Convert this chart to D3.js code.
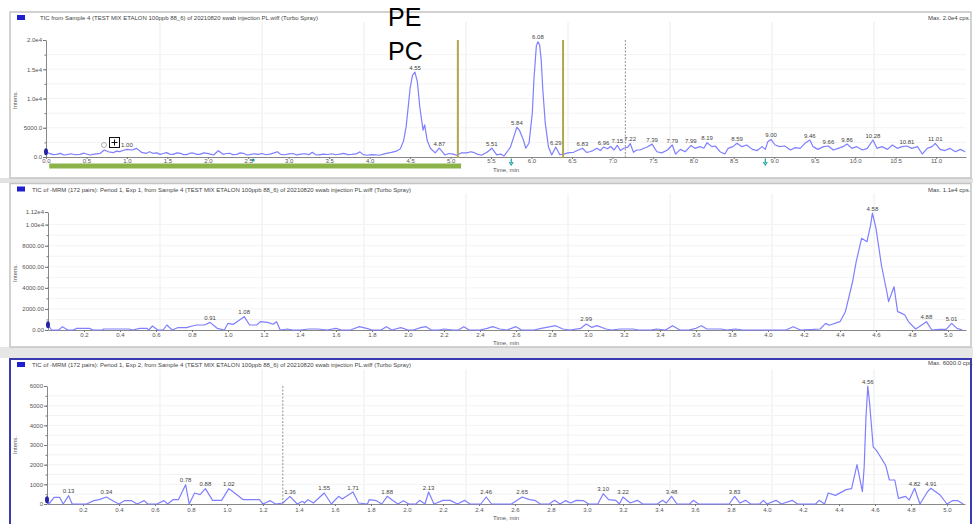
<!DOCTYPE html>
<html>
<head>
<meta charset="utf-8">
<script src="https://cdn.jsdelivr.net/npm/d3@7"></script>
<style>
  body { margin: 0; background: #fff; }
  svg { display: block; font-family: "Liberation Sans", Arial, sans-serif; }
</style>
</head>
<body>
<svg id="chart" width="973" height="524"></svg>
<script>
// ---- data: [time (min), intensity (cps)] ----
const p1Trace = [[0.00,900],[0.04,630],[0.09,400],[0.13,455],[0.18,620],[0.22,340],[0.26,400],[0.31,560],[0.36,380],[0.42,455],[0.47,650],[0.54,340],[0.60,500],[0.67,630],[0.72,1200],[0.77,900],[0.83,740],[0.87,1000],[0.91,910],[0.96,1150],[1.00,1310],[1.06,1200],[1.12,1480],[1.18,800],[1.24,630],[1.28,900],[1.32,630],[1.37,700],[1.41,455],[1.45,600],[1.49,740],[1.53,500],[1.57,455],[1.62,700],[1.66,630],[1.70,400],[1.74,400],[1.78,650],[1.82,680],[1.86,450],[1.90,455],[1.95,700],[1.99,630],[2.03,500],[2.07,340],[2.13,1080],[2.19,455],[2.23,600],[2.27,630],[2.31,400],[2.36,455],[2.40,700],[2.44,630],[2.48,380],[2.52,400],[2.57,550],[2.62,450],[2.67,600],[2.72,380],[2.77,500],[2.82,700],[2.86,900],[2.90,450],[2.95,380],[3.00,520],[3.05,600],[3.10,350],[3.15,480],[3.20,560],[3.25,400],[3.29,800],[3.33,420],[3.38,350],[3.43,500],[3.48,430],[3.53,550],[3.58,380],[3.63,480],[3.68,620],[3.73,400],[3.78,450],[3.83,520],[3.88,880],[3.92,400],[3.97,300],[4.02,420],[4.07,380],[4.12,300],[4.17,500],[4.22,650],[4.27,800],[4.33,1000],[4.38,1400],[4.42,2800],[4.45,5100],[4.48,9000],[4.50,11800],[4.53,14000],[4.56,14500],[4.59,12800],[4.62,8500],[4.66,4600],[4.68,5500],[4.71,2900],[4.75,1500],[4.81,700],[4.86,1500],[4.93,350],[4.98,600],[5.03,500],[5.08,300],[5.13,700],[5.20,700],[5.25,900],[5.28,800],[5.33,500],[5.38,300],[5.45,800],[5.51,1500],[5.57,350],[5.62,500],[5.66,170],[5.70,900],[5.74,1700],[5.78,3400],[5.82,5100],[5.85,4600],[5.90,2900],[5.93,1500],[5.97,2400],[6.01,7500],[6.03,13200],[6.06,19000],[6.08,19700],[6.10,19200],[6.12,16600],[6.14,11500],[6.17,5800],[6.21,1700],[6.25,350],[6.30,1700],[6.35,400],[6.40,500],[6.45,700],[6.52,800],[6.58,1200],[6.63,1500],[6.68,800],[6.72,900],[6.76,1100],[6.81,1500],[6.85,1100],[6.89,1700],[6.94,1400],[6.98,1800],[7.02,1200],[7.06,2000],[7.10,1100],[7.14,1500],[7.19,1700],[7.22,2300],[7.26,800],[7.30,1200],[7.34,1200],[7.39,1500],[7.43,1700],[7.49,2200],[7.55,900],[7.61,700],[7.68,1200],[7.74,2050],[7.78,500],[7.84,1300],[7.90,900],[7.97,1950],[8.02,1480],[8.08,1770],[8.13,1500],[8.17,2450],[8.23,1770],[8.27,1880],[8.33,900],[8.39,500],[8.43,1480],[8.49,1770],[8.54,2340],[8.60,1770],[8.66,2050],[8.73,1300],[8.79,1100],[8.85,1770],[8.89,1300],[8.92,2620],[8.96,3000],[9.01,2050],[9.07,1770],[9.13,1880],[9.20,1200],[9.26,1600],[9.32,1480],[9.38,2340],[9.44,2900],[9.48,1770],[9.54,1300],[9.61,1770],[9.67,1880],[9.73,1200],[9.79,1480],[9.85,1770],[9.90,2220],[9.96,1480],[10.02,1770],[10.09,1200],[10.15,1480],[10.22,2900],[10.27,1480],[10.33,1770],[10.40,1300],[10.46,2050],[10.52,1480],[10.58,1770],[10.64,1880],[10.70,1480],[10.77,1770],[10.83,510],[10.89,1480],[10.95,1770],[10.99,2340],[11.05,1300],[11.11,1100],[11.17,1480],[11.24,900],[11.30,1300],[11.36,900]];

const p2Trace = [[0.00,500],[0.02,0],[0.06,0],[0.08,316],[0.11,0],[0.14,0],[0.16,158],[0.19,158],[0.23,158],[0.25,0],[0.30,0],[0.31,95],[0.38,95],[0.45,95],[0.47,0],[0.51,158],[0.55,158],[0.56,0],[0.58,380],[0.61,0],[0.64,0],[0.66,475],[0.69,0],[0.72,220],[0.77,220],[0.80,380],[0.83,475],[0.87,475],[0.90,727],[0.94,158],[0.98,0],[1.00,633],[1.03,540],[1.05,790],[1.09,1265],[1.12,475],[1.16,475],[1.18,790],[1.22,727],[1.25,540],[1.27,790],[1.29,0],[1.33,95],[1.36,0],[1.40,0],[1.45,95],[1.50,95],[1.55,0],[1.60,158],[1.63,0],[1.68,0],[1.73,316],[1.77,158],[1.80,0],[1.85,0],[1.88,316],[1.91,0],[1.96,220],[2.00,0],[2.03,0],[2.07,220],[2.10,316],[2.13,0],[2.17,0],[2.20,95],[2.25,0],[2.28,0],[2.31,316],[2.34,0],[2.40,0],[2.44,158],[2.47,316],[2.51,95],[2.55,0],[2.60,316],[2.63,0],[2.70,0],[2.74,158],[2.77,250],[2.82,410],[2.86,95],[2.90,0],[2.96,158],[2.99,570],[3.02,250],[3.05,410],[3.10,95],[3.13,0],[3.18,95],[3.25,95],[3.28,0],[3.35,0],[3.38,95],[3.43,0],[3.47,410],[3.51,0],[3.56,0],[3.60,158],[3.63,410],[3.66,95],[3.70,95],[3.74,95],[3.77,0],[3.82,95],[3.86,0],[4.10,0],[4.14,310],[4.18,0],[4.25,50],[4.29,95],[4.32,630],[4.34,450],[4.40,790],[4.43,1740],[4.47,4580],[4.49,6480],[4.52,8700],[4.55,8380],[4.57,9960],[4.58,11100],[4.60,9650],[4.63,6170],[4.66,3630],[4.67,2690],[4.70,4110],[4.72,1740],[4.74,1600],[4.76,1420],[4.78,800],[4.82,95],[4.84,300],[4.88,790],[4.91,0],[4.95,50],[4.99,50],[5.02,630],[5.05,150],[5.08,0]];

const p3Trace = [[0.00,220],[0.01,0],[0.04,340],[0.07,340],[0.09,0],[0.12,424],[0.14,0],[0.18,0],[0.22,0],[0.26,170],[0.29,220],[0.33,356],[0.37,136],[0.40,0],[0.43,170],[0.47,170],[0.50,0],[0.54,170],[0.56,0],[0.61,0],[0.65,170],[0.67,0],[0.70,220],[0.73,220],[0.77,983],[0.79,0],[0.82,560],[0.85,475],[0.88,780],[0.92,186],[0.97,186],[1.01,780],[1.03,644],[1.09,220],[1.18,220],[1.20,0],[1.24,170],[1.27,0],[1.31,50],[1.35,390],[1.39,0],[1.42,136],[1.43,50],[1.45,220],[1.48,50],[1.54,560],[1.58,0],[1.62,390],[1.64,254],[1.70,610],[1.73,50],[1.78,0],[1.79,220],[1.83,170],[1.86,0],[1.89,390],[1.92,186],[1.95,0],[1.98,170],[2.01,0],[2.05,0],[2.07,186],[2.10,0],[2.12,610],[2.15,0],[2.20,186],[2.24,186],[2.28,0],[2.32,186],[2.35,0],[2.41,0],[2.44,356],[2.47,0],[2.58,0],[2.64,356],[2.68,220],[2.71,186],[2.74,0],[2.79,0],[2.82,186],[2.85,0],[2.88,170],[2.91,50],[2.94,186],[2.98,170],[3.01,0],[3.06,0],[3.09,525],[3.12,220],[3.16,186],[3.18,0],[3.20,356],[3.24,50],[3.28,186],[3.31,0],[3.39,0],[3.42,186],[3.44,50],[3.47,390],[3.50,0],[3.57,0],[3.59,186],[3.62,0],[3.79,0],[3.82,390],[3.85,50],[3.88,186],[3.91,0],[3.96,0],[3.98,186],[4.00,0],[4.05,186],[4.08,0],[4.14,186],[4.17,0],[4.27,0],[4.29,186],[4.32,0],[4.34,560],[4.38,440],[4.44,730],[4.47,780],[4.50,2000],[4.53,630],[4.54,1900],[4.55,4440],[4.56,6000],[4.57,5130],[4.59,2900],[4.61,2700],[4.63,2400],[4.66,1950],[4.68,1220],[4.71,1220],[4.73,290],[4.77,390],[4.79,200],[4.82,800],[4.85,0],[4.89,600],[4.91,800],[4.96,475],[5.00,0],[5.03,170],[5.06,170],[5.09,0]];

// peak annotations
const p1PeakTimes = [1.00, 4.56, 4.86, 5.51, 5.82, 6.08, 6.30, 6.63, 6.89, 7.06, 7.22, 7.49, 7.74, 7.97, 8.17, 8.54, 8.96, 9.44, 9.67, 9.90, 10.22, 10.64, 10.99];
const p1PeakLabels = ["1.00","4.55","4.87","5.51","5.84","6.08","6.29","6.83","6.96","7.15","7.22","7.39","7.79","7.99","8.19","8.59","9.00","9.46","9.66","9.86","10.28","10.81","11.01"];
const p2PeakTimes = [0.90, 1.09, 2.99, 4.58, 4.88, 5.02];
const p2PeakLabels = ["0.91","1.08","2.99","4.58","4.88","5.01"];
const p3PeakTimes = [0.12, 0.33, 0.77, 0.88, 1.01, 1.35, 1.54, 1.70, 1.89, 2.12, 2.44, 2.64, 3.09, 3.20, 3.47, 3.82, 4.56, 4.82, 4.91];
const p3PeakLabels = ["0.13","0.34","0.78","0.88","1.02","1.36","1.55","1.71","1.88","2.13","2.46","2.65","3.10","3.22","3.48","3.83","4.56","4.82","4.91"];

// axis ticks
const p1XTicks = [0,0.5,1,1.5,2,2.5,3,3.5,4,4.5,5,5.5,6,6.5,7,7.5,8,8.5,9,9.5,10,10.5,11];
const p23XTicks = [0.2,0.4,0.6,0.8,1.0,1.2,1.4,1.6,1.8,2.0,2.2,2.4,2.6,2.8,3.0,3.2,3.4,3.6,3.8,4.0,4.2,4.4,4.6,4.8,5.0];
const p1YTicks = [0, 5000, 10000, 15000, 20000];
const p1YLabels = ["0.0", "5000.0", "1.0e4", "1.5e4", "2.0e4"];
const p2YTicks = [0, 2000, 4000, 6000, 8000, 10000, 11200];
const p2YLabels = ["0.00", "2000.00", "4000.00", "6000.00", "8000.00", "1.00e4", "1.12e4"];
const p3YTicks = [0, 1000, 2000, 3000, 4000, 5000, 6000];
const p3YLabels = ["0", "1000", "2000", "3000", "4000", "5000", "6000"];

// markers in the top panel (min)
const p1Cursors = [5.09, 6.39];
const p1DashedAt = [7.16];
const p3DashedAt = [1.31];
const p1Triggers = [5.75, 8.89];
const p1Range = [0.04, 5.13];

const titles = [
  "TIC from Sample 4 (TEST MIX ETALON 100ppb 88_6) of 20210820 swab injection PL.wiff (Turbo Spray)",
  "TIC of -MRM (172 pairs): Period 1, Exp 1, from Sample 4 (TEST MIX ETALON 100ppb 88_6) of 20210820 swab injection PL.wiff (Turbo Spray)",
  "TIC of -MRM (172 pairs): Period 1, Exp 2, from Sample 4 (TEST MIX ETALON 100ppb 88_6) of 20210820 swab injection PL.wiff (Turbo Spray)"
];
const maxLabels = ["Max. 2.0e4 cps.", "Max. 1.1e4 cps.", "Max. 6000.0 cps."];

const svg = d3.select('#chart');
const traceColor = '#7f7fff';

// gray bands between the panes
svg.append('rect').attr('x', 0).attr('y', 178).attr('width', 973).attr('height', 5).attr('fill', '#e2e2e2');
svg.append('rect').attr('x', 0).attr('y', 347).attr('width', 973).attr('height', 11).attr('fill', '#e6e6e6');

function drawPanel(p) {
    const g = svg.append('g');

    // pane frame
    g.append('rect')
        .attr('x', 10).attr('y', p.frameTop)
        .attr('width', 961).attr('height', p.frameBottom - p.frameTop)
        .attr('fill', '#fff')
        .attr('stroke', p.selected ? '#3b3bb0' : '#c4c4c4')
        .attr('stroke-width', p.selected ? 2 : 1.5);

    const x = d3.scaleLinear().domain([0, p.tMax]).range([p.left, p.right]);
    const y = d3.scaleLinear().domain([0, p.yMax]).range([p.bottom, p.top]);

    // faint grid
    g.selectAll('.vgrid').data(d3.range(160, 970, 102)).enter()
        .append('line')
        .attr('x1', d => d).attr('x2', d => d)
        .attr('y1', p.frameTop + 10).attr('y2', p.bottom)
        .attr('stroke', '#ececec').attr('stroke-width', 1);
    g.selectAll('.hgrid').data(p.minorTicks).enter()
        .append('line')
        .attr('x1', p.left).attr('x2', p.right)
        .attr('y1', d => y(d)).attr('y2', d => y(d))
        .attr('stroke', '#f3f3f3').attr('stroke-width', 1);

    // legend square, title, max
    g.append('rect').attr('x', 17).attr('y', p.frameTop + 3).attr('width', 8).attr('height', 5)
        .attr('fill', '#1f1fcf');
    g.append('text').attr('x', p.titleX).attr('y', p.frameTop + 8)
        .attr('font-size', 6).attr('fill', '#444').text(p.title);
    g.append('text').attr('x', 928).attr('y', p.frameTop + p.maxDy)
        .attr('font-size', 6).attr('fill', '#444').text(p.maxLabel);

    // axes
    const yAxis = g.append('g')
        .attr('transform', `translate(${p.left},0)`)
        .call(d3.axisLeft(y).tickValues(p.yTicks)
            .tickFormat((d, i) => p.yLabels[i]).tickSize(3).tickPadding(1).tickSizeOuter(0));
    g.append('g')
        .attr('transform', `translate(${p.left},0)`)
        .call(d3.axisLeft(y).tickValues(p.minorTicks).tickFormat('').tickSize(1.5).tickSizeOuter(0))
        .call(a => a.select('.domain').remove());
    const xAxis = g.append('g')
        .attr('transform', `translate(0,${p.bottom})`)
        .call(d3.axisBottom(x).tickValues(p.xTicks)
            .tickFormat(d3.format('.1f')).tickSize(2).tickPadding(p.xPad).tickSizeOuter(0));
    [yAxis, xAxis].forEach(a => {
        a.attr('font-family', null).attr('font-size', null);
        a.selectAll('text').attr('font-size', 6).attr('fill', '#555');
        a.select('.domain').attr('stroke', '#888');
    });
    g.selectAll('.tick line').attr('stroke', '#777');

    g.append('text')
        .attr('transform', `translate(17,${p.yLabelAt}) rotate(-90)`)
        .attr('text-anchor', 'middle').attr('font-size', 6).attr('fill', '#555')
        .text('Intens.');
    g.append('text').attr('x', 493).attr('y', p.timeLabelY)
        .attr('font-size', 6).attr('fill', '#555').text('Time, min');

    // trace
    const line = d3.line().x(d => x(d[0])).y(d => y(d[1]));
    g.append('path').datum(p.trace)
        .attr('d', line)
        .attr('fill', 'none')
        .attr('stroke', traceColor)
        .attr('stroke-width', 1.2)
        .attr('stroke-linejoin', 'round');

    // start marker
    g.append('ellipse')
        .attr('cx', x(p.trace[0][0])).attr('cy', y(p.trace[0][1]))
        .attr('rx', 2).attr('ry', 3.5).attr('fill', '#2424a6');

    // peak labels
    p.peakTimes.forEach((t, i) => {
        const near = p.trace.filter(d => Math.abs(d[0] - t) <= 0.035);
        const peak = d3.max(near, d => d[1]) || 0;
        g.append('text')
            .attr('x', x(t)).attr('y', y(peak) - 2.5)
            .attr('text-anchor', 'middle')
            .attr('font-size', 6).attr('fill', '#444')
            .text(p.peakLabels[i]);
    });

    return { g, x, y };
}

// ---- top pane: TIC ----
const ticPane = drawPanel({
    frameTop: 12, frameBottom: 178, titleX: 40, maxDy: 8,
    left: 46, right: 966, top: 40, bottom: 157, tMax: 11.37, yMax: 20000,
    trace: p1Trace, xTicks: p1XTicks, xPad: 0,
    yTicks: p1YTicks, yLabels: p1YLabels, minorTicks: d3.range(2500, 20000, 2500),
    peakTimes: p1PeakTimes, peakLabels: p1PeakLabels,
    title: titles[0], maxLabel: maxLabels[0], yLabelAt: 100, timeLabelY: 172
});

ticPane.g.append('rect')
    .attr('x', ticPane.x(p1Range[0])).attr('y', 163.5)
    .attr('width', ticPane.x(p1Range[1]) - ticPane.x(p1Range[0])).attr('height', 5)
    .attr('fill', '#8cb34a');

ticPane.g.selectAll('.cursor').data(p1Cursors).enter()
    .append('line')
    .attr('x1', d => ticPane.x(d)).attr('x2', d => ticPane.x(d))
    .attr('y1', 40).attr('y2', 158)
    .attr('stroke', '#b3a64a').attr('stroke-width', 2);

ticPane.g.selectAll('.dash').data(p1DashedAt).enter()
    .append('line')
    .attr('x1', d => ticPane.x(d)).attr('x2', d => ticPane.x(d))
    .attr('y1', 40).attr('y2', 157)
    .attr('stroke', '#777').attr('stroke-width', 0.8).attr('stroke-dasharray', '2,1.5');

ticPane.g.selectAll('.trig').data(p1Triggers).enter()
    .append('path')
    .attr('d', d => {
        const cx = ticPane.x(d);
        return `M${cx},158.5 L${cx},163 M${cx - 2},162 L${cx},165 L${cx + 2},162`;
    })
    .attr('fill', 'none').attr('stroke', '#1e9e9e').attr('stroke-width', 1.2);
ticPane.g.append('circle').attr('cx', ticPane.x(2.56)).attr('cy', 160).attr('r', 1.5).attr('fill', '#1e9e9e');

// selection glyphs near 0.7 min
ticPane.g.append('circle').attr('cx', 104).attr('cy', 145).attr('r', 2.5)
    .attr('fill', 'none').attr('stroke', '#999').attr('stroke-width', 0.8);
ticPane.g.append('rect').attr('x', 109.5).attr('y', 137.5).attr('width', 10).attr('height', 10)
    .attr('fill', '#fff').attr('stroke', '#111').attr('stroke-width', 1);
ticPane.g.append('path').attr('d', 'M114.5,139.5 L114.5,145.5 M111.5,142.5 L117.5,142.5')
    .attr('stroke', '#111').attr('stroke-width', 1);

// PE / PC annotation
svg.append('text').attr('x', 388).attr('y', 25.5)
    .attr('font-size', 25).attr('fill', '#000').text('PE');
svg.append('text').attr('x', 388).attr('y', 59.5)
    .attr('font-size', 25).attr('fill', '#000').text('PC');

// ---- middle pane: MRM Exp 1 ----
drawPanel({
    frameTop: 183.5, frameBottom: 347, titleX: 32, maxDy: 8,
    left: 48, right: 966, top: 212, bottom: 330, tMax: 5.1, yMax: 11200,
    trace: p2Trace, xTicks: p23XTicks, xPad: 0.5,
    yTicks: p2YTicks, yLabels: p2YLabels, minorTicks: d3.range(1000, 11000, 1000),
    peakTimes: p2PeakTimes, peakLabels: p2PeakLabels,
    title: titles[1], maxLabel: maxLabels[1], yLabelAt: 273, timeLabelY: 345
});

// ---- bottom pane: MRM Exp 2 (selected) ----
const mrm2Pane = drawPanel({
    frameTop: 359, frameBottom: 525, titleX: 32, maxDy: 6, selected: true,
    left: 47, right: 965, top: 386, bottom: 504, tMax: 5.1, yMax: 6000,
    trace: p3Trace, xTicks: p23XTicks, xPad: 2,
    yTicks: p3YTicks, yLabels: p3YLabels, minorTicks: d3.range(500, 6000, 500),
    peakTimes: p3PeakTimes, peakLabels: p3PeakLabels,
    title: titles[2], maxLabel: maxLabels[2], yLabelAt: 445, timeLabelY: 520
});

mrm2Pane.g.selectAll('.dash').data(p3DashedAt).enter()
    .append('line')
    .attr('x1', d => mrm2Pane.x(d)).attr('x2', d => mrm2Pane.x(d))
    .attr('y1', 386).attr('y2', 504)
    .attr('stroke', '#777').attr('stroke-width', 0.8).attr('stroke-dasharray', '2,1.5');
</script>
</body>
</html>
